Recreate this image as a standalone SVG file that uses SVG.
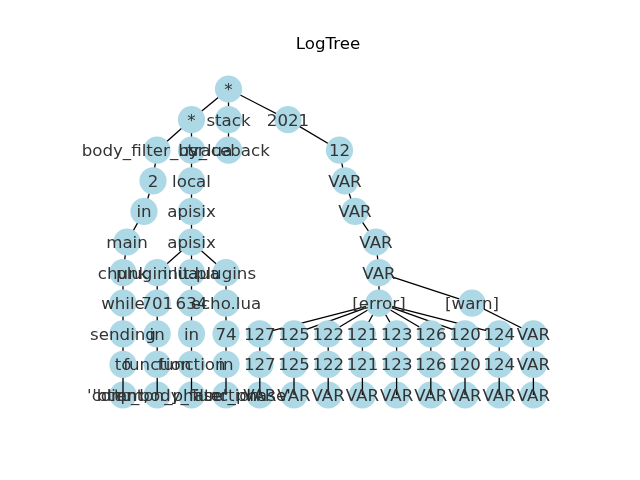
<svg xmlns="http://www.w3.org/2000/svg" xmlns:xlink="http://www.w3.org/1999/xlink" width="640" height="480" viewBox="0 0 640 480">
<style>
.n circle{fill:#ADD8E6;mix-blend-mode:multiply}
.n text{font-family:"DejaVu Sans",sans-serif;font-size:16.67px;fill:#333;text-anchor:middle}
#edges line{stroke:#000;stroke-width:1.3}
.title{font-family:"DejaVu Sans",sans-serif;font-size:16.67px;fill:#000;text-anchor:middle}
</style>
<defs>
<mask id="hide" maskUnits="userSpaceOnUse" x="0" y="0" width="640" height="480">
<rect width="640" height="480" fill="#fff"/>
<g fill="#000">
<circle cx="228.5" cy="89" r="13.6"/>
<circle cx="191.5" cy="119.6" r="13.6"/><circle cx="228.5" cy="119.6" r="13.6"/><circle cx="288" cy="119.6" r="13.6"/>
<circle cx="157" cy="150.2" r="13.6"/><circle cx="191.5" cy="150.2" r="13.6"/><circle cx="228.5" cy="150.2" r="13.6"/><circle cx="339.5" cy="150.2" r="13.6"/>
<circle cx="153" cy="180.8" r="13.6"/><circle cx="191.5" cy="180.8" r="13.6"/><circle cx="345" cy="180.8" r="13.6"/>
<circle cx="144" cy="211.4" r="13.6"/><circle cx="191.5" cy="211.4" r="13.6"/><circle cx="355" cy="211.4" r="13.6"/>
<circle cx="127" cy="242" r="13.6"/><circle cx="191.5" cy="242" r="13.6"/><circle cx="376" cy="242" r="13.6"/>
<circle cx="123" cy="272.6" r="13.6"/><circle cx="157.2" cy="272.6" r="13.6"/><circle cx="191.5" cy="272.6" r="13.6"/><circle cx="226" cy="272.6" r="13.6"/><circle cx="379" cy="272.6" r="13.6"/>
<circle cx="123" cy="303.2" r="13.6"/><circle cx="157.2" cy="303.2" r="13.6"/><circle cx="191.5" cy="303.2" r="13.6"/><circle cx="226" cy="303.2" r="13.6"/><circle cx="379" cy="303.2" r="13.6"/><circle cx="472" cy="303.2" r="13.6"/>
<circle cx="259.8" cy="333.8" r="13.6"/><circle cx="294" cy="333.8" r="13.6"/><circle cx="328.2" cy="333.8" r="13.6"/><circle cx="362.4" cy="333.8" r="13.6"/><circle cx="396.6" cy="333.8" r="13.6"/><circle cx="430.8" cy="333.8" r="13.6"/><circle cx="465" cy="333.8" r="13.6"/><circle cx="499.2" cy="333.8" r="13.6"/><circle cx="533.4" cy="333.8" r="13.6"/>
<circle cx="123" cy="333.8" r="13.6"/><circle cx="157.2" cy="333.8" r="13.6"/><circle cx="191.5" cy="333.8" r="13.6"/><circle cx="226" cy="333.8" r="13.6"/>
<circle cx="123" cy="364.4" r="13.6"/><circle cx="157.2" cy="364.4" r="13.6"/><circle cx="191.5" cy="364.4" r="13.6"/><circle cx="226" cy="364.4" r="13.6"/>
<circle cx="259.8" cy="364.4" r="13.6"/><circle cx="294" cy="364.4" r="13.6"/><circle cx="328.2" cy="364.4" r="13.6"/><circle cx="362.4" cy="364.4" r="13.6"/><circle cx="396.6" cy="364.4" r="13.6"/><circle cx="430.8" cy="364.4" r="13.6"/><circle cx="465" cy="364.4" r="13.6"/><circle cx="499.2" cy="364.4" r="13.6"/><circle cx="533.4" cy="364.4" r="13.6"/>
</g>
</mask>
</defs>
<rect width="640" height="480" fill="#fff"/>
<text class="title" x="328" y="49">LogTree</text>
<g id="edges" mask="url(#hide)">
<line x1="228.5" y1="89" x2="191.5" y2="119.6"/>
<line x1="228.5" y1="89" x2="228.5" y2="119.6"/>
<line x1="228.5" y1="89" x2="288" y2="119.6"/>
<line x1="191.5" y1="119.6" x2="157" y2="150.2"/>
<line x1="191.5" y1="119.6" x2="191.5" y2="150.2"/>
<line x1="228.5" y1="119.6" x2="228.5" y2="150.2"/>
<line x1="288" y1="119.6" x2="339.5" y2="150.2"/>
<line x1="157" y1="150.2" x2="153" y2="180.8"/>
<line x1="191.5" y1="150.2" x2="191.5" y2="180.8"/>
<line x1="339.5" y1="150.2" x2="345" y2="180.8"/>
<line x1="153" y1="180.8" x2="144" y2="211.4"/>
<line x1="191.5" y1="180.8" x2="191.5" y2="211.4"/>
<line x1="345" y1="180.8" x2="355" y2="211.4"/>
<line x1="144" y1="211.4" x2="127" y2="242"/>
<line x1="191.5" y1="211.4" x2="191.5" y2="242"/>
<line x1="355" y1="211.4" x2="376" y2="242"/>
<line x1="127" y1="242" x2="123" y2="272.6"/>
<line x1="191.5" y1="242" x2="157.2" y2="272.6"/>
<line x1="191.5" y1="242" x2="191.5" y2="272.6"/>
<line x1="191.5" y1="242" x2="226" y2="272.6"/>
<line x1="376" y1="242" x2="379" y2="272.6"/>
<line x1="379" y1="272.6" x2="379" y2="303.2"/>
<line x1="379" y1="272.6" x2="472" y2="303.2"/>
<line x1="123" y1="272.6" x2="123" y2="395"/>
<line x1="157.2" y1="272.6" x2="157.2" y2="395"/>
<line x1="191.5" y1="272.6" x2="191.5" y2="395"/>
<line x1="226" y1="272.6" x2="226" y2="395"/>
<line x1="379" y1="303.2" x2="259.8" y2="333.8"/>
<line x1="379" y1="303.2" x2="294" y2="333.8"/>
<line x1="379" y1="303.2" x2="328.2" y2="333.8"/>
<line x1="379" y1="303.2" x2="362.4" y2="333.8"/>
<line x1="379" y1="303.2" x2="396.6" y2="333.8"/>
<line x1="379" y1="303.2" x2="430.8" y2="333.8"/>
<line x1="379" y1="303.2" x2="465" y2="333.8"/>
<line x1="379" y1="303.2" x2="499.2" y2="333.8"/>
<line x1="472" y1="303.2" x2="533.4" y2="333.8"/>
<line x1="259.8" y1="333.8" x2="259.8" y2="395"/>
<line x1="294" y1="333.8" x2="294" y2="395"/>
<line x1="328.2" y1="333.8" x2="328.2" y2="395"/>
<line x1="362.4" y1="333.8" x2="362.4" y2="395"/>
<line x1="396.6" y1="333.8" x2="396.6" y2="395"/>
<line x1="430.8" y1="333.8" x2="430.8" y2="395"/>
<line x1="465" y1="333.8" x2="465" y2="395"/>
<line x1="499.2" y1="333.8" x2="499.2" y2="395"/>
<line x1="533.4" y1="333.8" x2="533.4" y2="395"/>
</g>
<g id="nodes">
<g id="n-root" class="n"><circle cx="228.5" cy="89" r="13.6"/><text x="228.5" y="95">*</text></g>
<g id="n-star" class="n"><circle cx="191.5" cy="119.6" r="13.6"/><text x="191.5" y="125.6">*</text></g>
<g id="n-stack" class="n"><circle cx="228.5" cy="119.6" r="13.6"/><text x="228.5" y="125.6">stack</text></g>
<g id="n-2021" class="n"><circle cx="288" cy="119.6" r="13.6"/><text x="288" y="125.6">2021</text></g>
<g id="n-bodyfilter" class="n"><circle cx="157" cy="150.2" r="13.6"/><text x="157" y="156.2">body_filter_by_lua</text></g>
<g id="n-usr" class="n"><circle cx="191.5" cy="150.2" r="13.6"/><text x="191.5" y="156.2">usr</text></g>
<g id="n-traceback" class="n"><circle cx="228.5" cy="150.2" r="13.6"/><text x="228.5" y="156.2">traceback</text></g>
<g id="n-12" class="n"><circle cx="339.5" cy="150.2" r="13.6"/><text x="339.5" y="156.2">12</text></g>
<g id="n-2" class="n"><circle cx="153" cy="180.8" r="13.6"/><text x="153" y="186.8">2</text></g>
<g id="n-local" class="n"><circle cx="191.5" cy="180.8" r="13.6"/><text x="191.5" y="186.8">local</text></g>
<g id="n-var1" class="n"><circle cx="345" cy="180.8" r="13.6"/><text x="345" y="186.8">VAR</text></g>
<g id="n-in1" class="n"><circle cx="144" cy="211.4" r="13.6"/><text x="144" y="217.4">in</text></g>
<g id="n-apisix1" class="n"><circle cx="191.5" cy="211.4" r="13.6"/><text x="191.5" y="217.4">apisix</text></g>
<g id="n-var2" class="n"><circle cx="355" cy="211.4" r="13.6"/><text x="355" y="217.4">VAR</text></g>
<g id="n-main" class="n"><circle cx="127" cy="242" r="13.6"/><text x="127" y="248">main</text></g>
<g id="n-apisix2" class="n"><circle cx="191.5" cy="242" r="13.6"/><text x="191.5" y="248">apisix</text></g>
<g id="n-var3" class="n"><circle cx="376" cy="242" r="13.6"/><text x="376" y="248">VAR</text></g>
<g id="n-chunk" class="n"><circle cx="123" cy="272.6" r="13.6"/><text x="123" y="278.6">chunk</text></g>
<g id="n-pluginlua" class="n"><circle cx="157.2" cy="272.6" r="13.6"/><text x="157.2" y="278.6">plugin.lua</text></g>
<g id="n-initlua" class="n"><circle cx="191.5" cy="272.6" r="13.6"/><text x="191.5" y="278.6">init.lua</text></g>
<g id="n-plugins" class="n"><circle cx="226" cy="272.6" r="13.6"/><text x="226" y="278.6">plugins</text></g>
<g id="n-var4" class="n"><circle cx="379" cy="272.6" r="13.6"/><text x="379" y="278.6">VAR</text></g>
<g id="n-while" class="n"><circle cx="123" cy="303.2" r="13.6"/><text x="123" y="309.2">while</text></g>
<g id="n-701" class="n"><circle cx="157.2" cy="303.2" r="13.6"/><text x="157.2" y="309.2">701</text></g>
<g id="n-634" class="n"><circle cx="191.5" cy="303.2" r="13.6"/><text x="191.5" y="309.2">634</text></g>
<g id="n-echolua" class="n"><circle cx="226" cy="303.2" r="13.6"/><text x="226" y="309.2">echo.lua</text></g>
<g id="n-error" class="n"><circle cx="379" cy="303.2" r="13.6"/><text x="379" y="309.2">[error]</text></g>
<g id="n-warn" class="n"><circle cx="472" cy="303.2" r="13.6"/><text x="472" y="309.2">[warn]</text></g>
<g id="n-sending" class="n"><circle cx="123" cy="333.8" r="13.6"/><text x="123" y="339.8">sending</text></g>
<g id="n-in2" class="n"><circle cx="157.2" cy="333.8" r="13.6"/><text x="157.2" y="339.8">in</text></g>
<g id="n-in3" class="n"><circle cx="191.5" cy="333.8" r="13.6"/><text x="191.5" y="339.8">in</text></g>
<g id="n-74" class="n"><circle cx="226" cy="333.8" r="13.6"/><text x="226" y="339.8">74</text></g>
<g id="n-127a" class="n"><circle cx="259.8" cy="333.8" r="13.6"/><text x="259.8" y="339.8">127</text></g>
<g id="n-125a" class="n"><circle cx="294" cy="333.8" r="13.6"/><text x="294" y="339.8">125</text></g>
<g id="n-122a" class="n"><circle cx="328.2" cy="333.8" r="13.6"/><text x="328.2" y="339.8">122</text></g>
<g id="n-121a" class="n"><circle cx="362.4" cy="333.8" r="13.6"/><text x="362.4" y="339.8">121</text></g>
<g id="n-123a" class="n"><circle cx="396.6" cy="333.8" r="13.6"/><text x="396.6" y="339.8">123</text></g>
<g id="n-126a" class="n"><circle cx="430.8" cy="333.8" r="13.6"/><text x="430.8" y="339.8">126</text></g>
<g id="n-120a" class="n"><circle cx="465" cy="333.8" r="13.6"/><text x="465" y="339.8">120</text></g>
<g id="n-124a" class="n"><circle cx="499.2" cy="333.8" r="13.6"/><text x="499.2" y="339.8">124</text></g>
<g id="n-var5" class="n"><circle cx="533.4" cy="333.8" r="13.6"/><text x="533.4" y="339.8">VAR</text></g>
<g id="n-to" class="n"><circle cx="123" cy="364.4" r="13.6"/><text x="123" y="370.4">to</text></g>
<g id="n-function1" class="n"><circle cx="157.2" cy="364.4" r="13.6"/><text x="157.2" y="370.4">function</text></g>
<g id="n-function2" class="n"><circle cx="191.5" cy="364.4" r="13.6"/><text x="191.5" y="370.4">function</text></g>
<g id="n-in4" class="n"><circle cx="226" cy="364.4" r="13.6"/><text x="226" y="370.4">in</text></g>
<g id="n-127b" class="n"><circle cx="259.8" cy="364.4" r="13.6"/><text x="259.8" y="370.4">127</text></g>
<g id="n-125b" class="n"><circle cx="294" cy="364.4" r="13.6"/><text x="294" y="370.4">125</text></g>
<g id="n-122b" class="n"><circle cx="328.2" cy="364.4" r="13.6"/><text x="328.2" y="370.4">122</text></g>
<g id="n-121b" class="n"><circle cx="362.4" cy="364.4" r="13.6"/><text x="362.4" y="370.4">121</text></g>
<g id="n-123b" class="n"><circle cx="396.6" cy="364.4" r="13.6"/><text x="396.6" y="370.4">123</text></g>
<g id="n-126b" class="n"><circle cx="430.8" cy="364.4" r="13.6"/><text x="430.8" y="370.4">126</text></g>
<g id="n-120b" class="n"><circle cx="465" cy="364.4" r="13.6"/><text x="465" y="370.4">120</text></g>
<g id="n-124b" class="n"><circle cx="499.2" cy="364.4" r="13.6"/><text x="499.2" y="370.4">124</text></g>
<g id="n-var6" class="n"><circle cx="533.4" cy="364.4" r="13.6"/><text x="533.4" y="370.4">VAR</text></g>
<g id="n-client" class="n"><circle cx="123" cy="395" r="13.6"/><text x="123" y="401">client,</text></g>
<g id="n-common" class="n"><circle cx="157.2" cy="395" r="13.6"/><text x="157.2" y="401">'common_phase'</text></g>
<g id="n-http" class="n"><circle cx="191.5" cy="395" r="13.6"/><text x="191.5" y="401">'http_body_filter_phase'</text></g>
<g id="n-function3" class="n"><circle cx="226" cy="395" r="13.6"/><text x="226" y="401">function</text></g>
<g id="n-var7" class="n"><circle cx="259.8" cy="395" r="13.6"/><text x="259.8" y="401">VAR</text></g>
<g id="n-var8" class="n"><circle cx="294" cy="395" r="13.6"/><text x="294" y="401">VAR</text></g>
<g id="n-var9" class="n"><circle cx="328.2" cy="395" r="13.6"/><text x="328.2" y="401">VAR</text></g>
<g id="n-var10" class="n"><circle cx="362.4" cy="395" r="13.6"/><text x="362.4" y="401">VAR</text></g>
<g id="n-var11" class="n"><circle cx="396.6" cy="395" r="13.6"/><text x="396.6" y="401">VAR</text></g>
<g id="n-var12" class="n"><circle cx="430.8" cy="395" r="13.6"/><text x="430.8" y="401">VAR</text></g>
<g id="n-var13" class="n"><circle cx="465" cy="395" r="13.6"/><text x="465" y="401">VAR</text></g>
<g id="n-var14" class="n"><circle cx="499.2" cy="395" r="13.6"/><text x="499.2" y="401">VAR</text></g>
<g id="n-var15" class="n"><circle cx="533.4" cy="395" r="13.6"/><text x="533.4" y="401">VAR</text></g>
</g>
</svg>
